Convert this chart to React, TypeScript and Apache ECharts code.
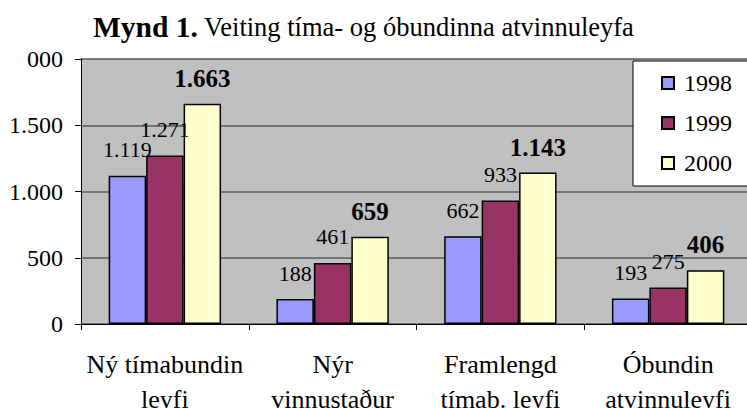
import React, { useEffect, useRef } from "react";
import * as echarts from "echarts";

const categories = ["Ný tímabundin\nleyfi", "Nýr\nvinnustaður", "Framlengd\ntímab. leyfi", "Óbundin\natvinnuleyfi"];
const seriesNames = ["1998", "1999", "2000"];
const values1998 = [1119, 188, 662, 193];
const values1999 = [1271, 461, 933, 275];
const values2000 = [1663, 659, 1143, 406];
const yTickLabels = ["0", "500", "1.000", "1.500", "000"];
const colors = ["#9999FF", "#993366", "#FFFFCC"];

const FONT = "Liberation Serif";

const fmt = (v: number) => {
  const s = String(Math.round(v));
  return s.replace(/\B(?=(\d{3})+(?!\d))/g, ".");
};

export default function App() {
  const ref = useRef<HTMLDivElement>(null);
  useEffect(() => {
    if (!ref.current) return;
    const chart = echarts.init(ref.current, undefined, { renderer: "svg" });
    const data = [values1998, values1999, values2000];
    chart.setOption({
      animation: false,
      backgroundColor: "#FFFFFF",
      textStyle: { fontFamily: FONT, color: "#000" },
      title: {
        text: "{b|Mynd 1.}{n| Veiting tíma- og óbundinna atvinnuleyfa}",
        left: 93,
        top: 12,
        padding: 0,
        textStyle: {
          fontFamily: FONT,
          rich: {
            b: { fontFamily: FONT, fontWeight: "bold", fontSize: 29.5, color: "#000" },
            n: { fontFamily: FONT, fontWeight: "normal", fontSize: 26.5, color: "#000" },
          },
        },
      },
      legend: {
        orient: "vertical",
        left: 633,
        top: 61,
        padding: [10, 30, 11, 28],
        itemGap: 16,
        itemWidth: 12,
        itemHeight: 12,
        backgroundColor: "#FFFFFF",
        borderColor: "#000",
        borderWidth: 1,
        borderRadius: 0,
        icon: "rect",
        data: seriesNames,
        textStyle: { fontFamily: FONT, fontSize: 24, color: "#000", padding: [0, 0, 0, 5] },
      },
      grid: {
        left: 81,
        top: 59,
        bottom: 84,
        right: -5,
        show: true,
        backgroundColor: "#C0C0C0",
        borderWidth: 0,
        containLabel: false,
        outerBoundsMode: "none",
      },
      xAxis: {
        type: "category",
        data: categories,
        axisLine: { show: true, lineStyle: { color: "#000", width: 1 } },
        axisTick: { show: true, length: 6, lineStyle: { color: "#000" } },
        axisLabel: {
          interval: 0,
          margin: 23,
          fontFamily: FONT,
          fontSize: 26,
          lineHeight: 35,
          color: "#000",
        },
      },
      yAxis: {
        type: "value",
        min: 0,
        max: 2000,
        interval: 500,
        axisLine: { show: true, lineStyle: { color: "#000", width: 1 } },
        axisTick: { show: true, length: 6, lineStyle: { color: "#000" } },
        splitLine: { show: true, lineStyle: { color: "#5A5A5A", width: 1.5 } },
        axisLabel: {
          margin: 18,
          fontFamily: FONT,
          fontSize: 24,
          color: "#000",
          formatter: (v: number) => yTickLabels[Math.round(v / 500)] ?? "",
        },
      },
      series: seriesNames.map((name, i) => ({
        name,
        type: "bar",
        data: data[i],
        barGap: "0%",
        barCategoryGap: "33%",
        itemStyle: { color: colors[i], borderColor: "#000", borderWidth: 1.5 },
        label: {
          show: true,
          position: "top",
          distance: i === 2 ? 13 : 15,
          fontFamily: FONT,
          fontSize: i === 2 ? 25 : 22,
          fontWeight: i === 2 ? "bold" : "normal",
          color: "#000",
          formatter: (p: any) => fmt(p.value),
        },
      })),
    });
    return () => chart.dispose();
  }, []);
  return <div ref={ref} style={{ position: "fixed", left: 0, top: 0, width: 747, height: 408 }} />;
}
